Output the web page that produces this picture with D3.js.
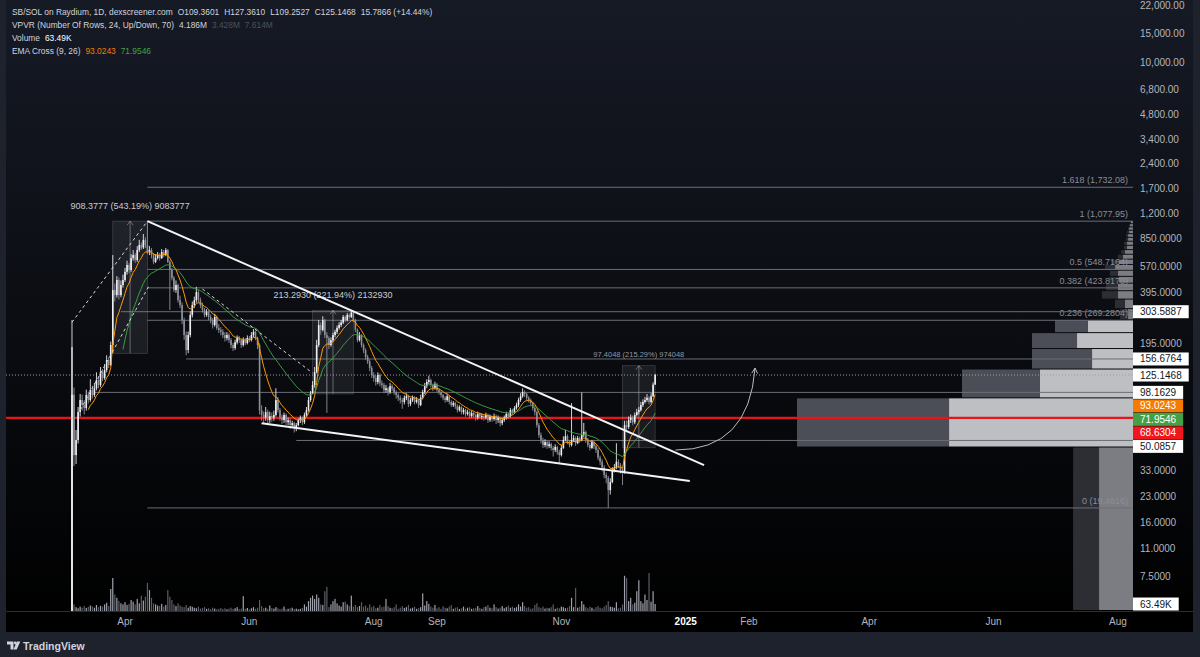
<!DOCTYPE html>
<html><head><meta charset="utf-8">
<script src="https://cdn.jsdelivr.net/npm/d3@7"></script>
<style>
html,body{margin:0;padding:0;background:#1e222d;overflow:hidden;}
svg{display:block;font-family:"Liberation Sans",Arial,sans-serif;}
</style></head><body>
<svg id="c" width="1200" height="657"></svg>
<script>
// ---------------- DATA ----------------
const startDate = "2024-03-06";
const firstOpen = 0.5;
const closes = [
95,40.8,50.4,74.5,88.2,82.2,78.8,94.6,88.2,101.4,
94.6,104,116.6,108.8,130.5,120,134.2,154.3,144,190.5,
411,383,473,383,441,473,530,584,544,643,
671,626,720,772,745,828,772,700,720,671,
610,643,671,643,700,671,720,610,544,487,
411,441,357,333,270,219,177.5,219,290,333,
357,399,357,333,311,290,302,282,270,252,
282,242,235,229,219,210,219,204,190.5,182.5,
198,210,204,190.5,204,196,210,204,219,229,
210,190.5,76.6,71.5,69,74.5,66.6,70.5,69,71.5,
88.2,76.6,69,66.6,71.5,64.7,66.6,62.1,63.8,59.6,
62.1,66.6,69,64.7,71.5,76.6,88.2,97,108.8,130.5,
190.5,252,235,270,219,210,190.5,204,219,229,
242,252,261,282,270,290,282,300,270,235,
204,219,190.5,177.5,161,151,138,125.2,120,113.5,
125.2,111.5,108.8,101.4,104,98.5,107,104,98.5,94.6,
91,88.2,85.8,91,93,83.4,88.2,91,85.8,88.2,
82.2,91,98.5,107,113.5,116.6,108.8,104,110,101.4,
98.5,94.6,91,88.2,93,85.8,82.2,84.5,81,76.6,
79.9,74.5,76.6,72.5,74.5,70.5,73.5,71.5,69,72.5,
70,70.5,69,71.5,66.6,70,67.6,70.5,66.6,69,
63.8,66.6,69,72.5,70.5,76.6,74.5,78.8,82.2,88.2,
93,98.5,96,91,88.2,84.5,78.8,74.5,62.1,54,
50.4,47,48.9,46.3,47.6,45.1,43.8,45.7,42.6,40.8,
45.1,50.4,53.2,48.9,47,50.4,51.8,48.3,51.8,50.4,
54,56.3,50.4,47,45.1,48.9,46.3,43.8,39.4,37.2,
34.3,30.9,29.6,25,28,33.1,34.3,37.2,35.5,33.1,
32.2,62.1,60.5,66.6,69,64.7,71.5,74.5,76.6,82.2,
85.8,88.2,91,85.8,93,109.3601,125.1468];
const highs = [
270,105,58,80,96,95,88,102,99,118,
108,112,130,122,140,136,146,165,160,200,
671,450,500,490,470,510,560,620,600,680,
720,690,760,830,800,900,860,1077.95,760,740,
690,680,700,690,730,720,740,730,625,560,
500,470,450,380,345,280,230,230,305,350,
375,430,410,370,345,320,315,310,292,278,
295,288,255,245,238,228,228,225,210,196,
205,218,216,208,212,210,218,216,228,238,
233,214,195,82,75,80,77,75,74,76,
104,92,79,72,74,73,69,68,66,65,
64,68,71,70,74,80,92,100,115,140,
205,270,262,285,275,228,215,212,226,236,
250,262,270,290,288,298,296,309.4,304,275,
240,228,222,195,182,166,156,142,130,124,
130,128,116,112,109,106,112,110,106,101,
97,94,91,94,97,95,91,94,93,92,
90,95,102,112,118,124,119,111,114,112,
104,100,96,93,96,94,88,87,86,83,
82,81,79,78,77,76,76,75,73,75,
74,73,72,74,73,72,71,73,72,71,
70,69,71,75,74,79,78,81,85,91,
97,104,101,98,93,90,86,80,76,64,
56,52,51,50,49.5,48.5,46.5,47.5,46.5,44,
47,53,58,54.5,50.5,84.5,54,53,53.5,53,
98.1,64,57.5,52,48.5,50.5,50,47.5,45,40.5,
38.5,35.5,32,30.5,29.5,34.5,36,48.2,38.5,36.5,
34,66,66,70,72,71,74,78,80,86,
89,92,96,93,97,113,127.361];
const lows = [
0.5,35,36,48,70,76,72,76,84,86,
90,92,101,104,106,115,117,130,138,142,
169.6,350,370,360,372,425,460,510,520,530,
620,600,610,700,720,730,740,680,670,640,
590,600,630,620,635,650,660,600,311,470,
400,395,345,320,255,205,165,170,212,280,
320,345,345,320,300,280,283,270,258,240,
246,235,225,218,210,200,203,196,182,175,
178,192,196,183,186,190,192,198,200,212,
204,180,72,66,64,66,63,64,65,66,
70,74,66,63,64,62,62,59,60,56,
57,61,64,62,63,70,75,86,96.1,105,
128,185,220,230,210,73.7,180,186,198,212,
222,236,245,255,262,265,275,278,262,228,
198,200,184,170,155,146,132,120,114,108,
110,107,104,97,98,94,96,100,95,90,
87,84,78,83,88,80,81,86,83,84,
79,81,89,96,104,110,105,100,102,98,
95,91,88,85,86,83,80,80,78,74,
75,72,72,70,71,68,69,69,66,67,
68,67,66,67,64,65,65,66,63,64,
61,62,65,67,68,69,72,73,77,80,
86,91,92,88,85,82,76,71,60,52,
48,45,45.5,44.5,45,43.5,40,42.5,41,36.6,
40,44.5,49.5,47.5,45.5,46,49,46.5,47.5,48.5,
49.5,52.5,48.5,45.5,43.5,44.5,44.5,42,38,35.5,
32.5,29.5,27.5,19.4816,23.5,27.5,32,33.5,34,31.5,
26.8,31.5,57,59,64,62,63,70,72,75,
80,84,86,83,84,92,109.2527];
const volumes = [
2400,60,35,25,40,30,45,28,38,50,
42,30,55,35,48,40,60,75,45,200,
300,150,120,90,70,60,80,55,65,100,
85,60,110,70,140,95,130,255,190,120,
70,60,50,45,65,40,55,190,130,100,
60,45,70,50,40,35,55,30,45,38,
30,25,40,22,28,35,20,25,18,30,
22,15,20,28,18,25,15,22,30,20,
25,35,18,22,135,20,28,15,25,35,
20,30,100,45,25,30,20,50,28,22,
35,25,18,22,40,15,20,25,30,18,
22,15,20,28,60,40,90,120,140,110,
150,120,60,55,180,220,35,60,90,110,
70,50,40,80,85,60,45,140,40,55,
35,45,80,40,50,30,60,35,45,25,
30,55,35,40,110,45,30,25,35,60,
20,30,45,28,35,55,22,30,40,20,
25,35,160,50,90,65,40,30,55,25,
35,20,45,30,25,40,55,20,30,35,
18,25,40,22,30,35,20,25,30,45,
28,20,35,40,55,30,25,60,35,22,
30,45,25,35,50,30,40,28,35,60,
40,80,45,30,35,20,25,55,70,35,
28,40,22,30,25,35,60,20,30,25,
40,35,25,30,45,120,35,210,30,40,
90,60,35,25,40,30,20,35,45,30,
25,40,55,90,40,35,30,80,25,30,
60,320,300,90,120,60,75,180,280,90,
70,150,100,345,85,180,63.49];

// EMA settings and last values shown in the legend
const emaLengths = [9, 26];
const emaLast = [93.0243, 71.9546];

// Volume profile (24 rows, Up/Down volumes in K), rows from price 0.5 upward
const vpLow = 0.5, vpStep = 44.89, vpValueArea = 0.70;
const vpUp =   [233,1262,638,281,384,309,34,55,103,103,96,103,123,96,69,55,41,41,34,34,27,27,21,14];
const vpDown = [178,1043,535,412,309,226,55,69,110,82,69,55,69,55,34,27,21,21,14,14,14,7,7,7];

// Fibonacci retracement
const fibStartDate = "2024-04-12";
const fibLevels = ["0","0.236","0.382","0.5","1","1.618"];
const fibPrices = [19.4816,269.2804,423.8170,548.7164,1077.95,1732.08];

// Horizontal rays
const rayPrices = [303.5887,156.6764,98.1629,50.0857];
const rayStarts = ["2024-03-30","2024-05-01","2024-03-17","2024-06-24"];
const redLinePrice = 68.6304;
const lastPrice = 125.1468;
const lastVolume = 63.49;

// Price-range measurements
const measStart = ["2024-03-26","2024-07-02","2024-12-01"];
const measEnd   = ["2024-04-12","2024-07-22","2024-12-17"];
const measLow   = [169.57,96.10,45.244];
const measHigh  = [1077.95,309.39,142.65];
const measText  = ["908.3777 (543.19%) 9083777","213.2930 (221.94%) 2132930","97.4048 (215.29%) 974048"];

// Trendlines [date, price, date, price]
const trendSolid = [["2024-04-12",1077.95,"2025-01-10",35.5],["2024-06-07",63.8,"2025-01-03",28.4]];
const trendDashed = [["2024-03-06",262,"2024-04-12",1077.95],["2024-03-10",76.6,"2024-04-13",441],["2024-05-09",417,"2024-07-02",128.7]];
// Curved projection arrow: start, control, end
const arrowCurve = [["2024-12-27",43.8],["2025-02-01",43.8],["2025-02-04",138]];

// Axes
const priceTicks = [22000,15000,10000,6800,4800,3400,2400,1700,1200,850,570,395,275,195,135,95,68,48,33,23,16,11,7.5];
const timeTickDates = ["2024-04-01","2024-06-01","2024-08-01","2024-09-01","2024-11-01","2025-01-01","2025-02-01","2025-04-01","2025-06-01","2025-08-01"];
const timeTickLabels = ["Apr","Jun","Aug","Sep","Nov","2025","Feb","Apr","Jun","Aug"];

// ---------------- LAYOUT ----------------
const PL=6, PR=1133, PT=0, PB=611, AXR=1193, TAB=632;
const parse = d3.utcParse("%Y-%m-%d");
const x = d3.scaleUtc().domain([parse("2024-04-01"), parse("2025-08-01")]).range([125,1118]);
const y = d3.scaleLog().domain([10000,16]).range([62,522]);
const vy = d3.scaleLinear().domain([0,1000]).range([PB,PB-110]);

const t0 = parse(startDate);
const bars = closes.map((c,i)=>({date:d3.utcDay.offset(t0,i), o:i?closes[i-1]:firstOpen, h:highs[i], l:lows[i], c, v:volumes[i]}));

function ema(src,n){const k=2/(n+1);let out=[],prev=null;for(let i=0;i<src.length;i++){if(i<n-1){out.push(null);}else if(i===n-1){prev=d3.mean(src.slice(0,n));out.push(prev);}else{prev=src[i]*k+prev*(1-k);out.push(prev);}}return out;}

const svg = d3.select("#c");
const defs = svg.append("defs");
const gr = defs.append("linearGradient").attr("id","bg").attr("x1",0).attr("y1",0).attr("x2",0).attr("y2",1);
gr.append("stop").attr("offset","0%").attr("stop-color","#161a25");
gr.append("stop").attr("offset","100%").attr("stop-color","#000000");
defs.append("clipPath").attr("id","pane").append("rect").attr("x",PL).attr("y",PT).attr("width",PR-PL).attr("height",PB-PT);

svg.append("rect").attr("width",1200).attr("height",657).attr("fill","#1e222d");
svg.append("rect").attr("x",PL).attr("y",0).attr("width",AXR-PL).attr("height",TAB).attr("fill","url(#bg)");

const P = svg.append("g").attr("clip-path","url(#pane)");

// volume
P.append("g").selectAll("rect").data(bars).join("rect")
 .attr("x",d=>x(d.date)-0.6).attr("width",1.2)
 .attr("y",d=>vy(d.v)).attr("height",d=>vy(0)-vy(d.v))
 .attr("fill",(d,i)=>i===0?"#e8e8ea":(d.c>=d.o?"#9fa2ab":"#5b5e68"));

// volume profile
const vpTot = vpUp.map((u,i)=>u+vpDown[i]);
const poc = d3.maxIndex(vpTot);
const inVA = vpTot.map(()=>false); inVA[poc]=true;
{let acc=vpTot[poc], lo=poc, hi=poc, target=d3.sum(vpTot)*vpValueArea;
 while(acc<target && (lo>0||hi<vpTot.length-1)){
   const a = lo>0?vpTot[lo-1]:-1, b = hi<vpTot.length-1?vpTot[hi+1]:-1;
   if(b>=a){hi++;acc+=vpTot[hi];inVA[hi]=true;} else {lo--;acc+=vpTot[lo];inVA[lo]=true;}
 }}
const vw = d3.scaleLinear().domain([0,d3.max(vpTot)]).range([0,336]);
const vpG = P.append("g");
vpUp.forEach((u,i)=>{
  const lo=vpLow+i*vpStep, hi=lo+vpStep;
  const yt=y(hi), yb=Math.min(y(lo),PB);
  const h=Math.max(0.5,yb-yt-1);
  vpG.append("rect").attr("x",PR-vw(u)).attr("width",vw(u)).attr("y",yt).attr("height",h).attr("fill",inVA[i]?"#bdbfc3":"#7c7d82");
  vpG.append("rect").attr("x",PR-vw(u)-vw(vpDown[i])).attr("width",vw(vpDown[i])).attr("y",yt).attr("height",h).attr("fill",inVA[i]?"#4b4e57":"#2d2e34");
});

// fib lines
const fibStart = x(parse(fibStartDate));
const fmtP = v=> v>=1000? d3.format(",.2f")(v) : d3.format(".4f")(v);
fibPrices.forEach((p,i)=>{
  P.append("line").attr("x1",fibStart).attr("x2",PR).attr("y1",y(p)).attr("y2",y(p)).attr("stroke","#6b6e78").attr("stroke-width",1);
  P.append("text").attr("x",PR-5).attr("y",y(p)-4).attr("text-anchor","end").attr("font-size",9).attr("fill","#8a8d96")
   .text(`${fibLevels[i]} (${fmtP(p)})`);
});
// rays
rayPrices.forEach((p,i)=>{
  P.append("line").attr("x1",x(parse(rayStarts[i]))).attr("x2",PR).attr("y1",y(p)).attr("y2",y(p)).attr("stroke","#6b6e78").attr("stroke-width",1);
});
P.append("line").attr("x1",PL).attr("x2",PR).attr("y1",y(lastPrice)).attr("y2",y(lastPrice)).attr("stroke","#9a9da6").attr("stroke-width",1).attr("stroke-dasharray","1,2");
P.append("line").attr("x1",PL).attr("x2",PR).attr("y1",y(redLinePrice)).attr("y2",y(redLinePrice)).attr("stroke","#e3161c").attr("stroke-width",2.2);

// measurement boxes
measStart.forEach((s,i)=>{
  const x0=x(parse(s)), x1=x(parse(measEnd[i])), y0=y(measHigh[i]), y1=y(measLow[i]);
  P.append("rect").attr("x",x0).attr("y",y0).attr("width",x1-x0).attr("height",y1-y0)
   .attr("fill","rgba(150,153,160,0.13)").attr("stroke","rgba(170,173,180,0.28)").attr("stroke-width",0.8);
  const cx=(x0+x1)/2;
  P.append("path").attr("d",`M${cx},${y1}V${y0}M${cx-3},${y0+4}L${cx},${y0}L${cx+3},${y0+4}`).attr("fill","none").attr("stroke","rgba(200,202,208,0.55)").attr("stroke-width",0.8);
  P.append("text").attr("x",cx).attr("y",y0-(i===2?9:12)).attr("text-anchor","middle")
   .attr("font-size",i===2?7.5:9).attr("fill",i===2?"#9598a1":"#c9cbd1").text(measText[i]);
});

// candles
const cg = P.append("g");
cg.selectAll("line").data(bars).join("line")
 .attr("x1",d=>x(d.date)).attr("x2",d=>x(d.date)).attr("y1",d=>y(d.h)).attr("y2",d=>y(d.l))
 .attr("stroke",d=>d.c>=d.o?"#e6e7ea":"#8e919a").attr("stroke-width",0.9);
cg.selectAll("rect").data(bars).join("rect")
 .attr("x",d=>x(d.date)-0.8).attr("width",1.6)
 .attr("y",d=>y(Math.max(d.o,d.c))).attr("height",d=>Math.max(1,Math.abs(y(d.o)-y(d.c))))
 .attr("fill",d=>d.c>=d.o?"#eeeff1":"#8e919a");

// EMAs
const emaColors=["#ff9800","#3f9a44"];
emaLengths.forEach((n,k)=>{
  const e = ema(closes,n);
  const pts = bars.map((b,i)=>({date:b.date,v:e[i]}));
  P.append("path").datum(pts).attr("fill","none").attr("stroke",emaColors[k]).attr("stroke-width",1)
   .attr("d",d3.line().defined(d=>d.v!=null).x(d=>x(d.date)).y(d=>y(d.v)));
});

// trendlines
trendSolid.forEach(t=>{
  P.append("line").attr("x1",x(parse(t[0]))).attr("y1",y(t[1])).attr("x2",x(parse(t[2]))).attr("y2",y(t[3]))
   .attr("stroke","#f4f4f6").attr("stroke-width",2);
});
trendDashed.forEach(t=>{
  P.append("line").attr("x1",x(parse(t[0]))).attr("y1",y(t[1])).attr("x2",x(parse(t[2]))).attr("y2",y(t[3]))
   .attr("stroke","#d6d7db").attr("stroke-width",1).attr("stroke-dasharray","3,3");
});
{
  const [a,c,b] = arrowCurve.map(p=>[x(parse(p[0])),y(p[1])]);
  const pth = d3.path(); pth.moveTo(a[0],a[1]); pth.quadraticCurveTo(c[0],c[1],b[0],b[1]);
  P.append("path").attr("d",pth.toString()).attr("fill","none").attr("stroke","#b9bbc1").attr("stroke-width",1);
  const dx=b[0]-c[0], dy=b[1]-c[1], L=Math.hypot(dx,dy), ux=dx/L, uy=dy/L;
  const s=6, ang=0.5;
  const p1=[b[0]-s*(ux*Math.cos(ang)-uy*Math.sin(ang)), b[1]-s*(uy*Math.cos(ang)+ux*Math.sin(ang))];
  const p2=[b[0]-s*(ux*Math.cos(-ang)-uy*Math.sin(-ang)), b[1]-s*(uy*Math.cos(-ang)+ux*Math.sin(-ang))];
  P.append("path").attr("d",`M${p1}L${b}L${p2}`).attr("fill","none").attr("stroke","#b9bbc1").attr("stroke-width",1);
}

// price labels (computed first so colliding tick labels can be hidden)
const lbls = [
  {v:303.5887,bg:"#ffffff",fg:"#131722"},
  {v:156.6764,bg:"#ffffff",fg:"#131722"},
  {v:lastPrice,bg:"#ffffff",fg:"#131722"},
  {v:98.1629,bg:"#ffffff",fg:"#131722"},
  {v:emaLast[0],bg:"#f57c00",fg:"#ffffff"},
  {v:emaLast[1],bg:"#43a047",fg:"#ffffff"},
  {v:redLinePrice,bg:"#f0161b",fg:"#ffffff"},
  {v:50.0857,bg:"#ffffff",fg:"#131722"}
].map(d=>({...d,yy:y(d.v),txt:fmtP(d.v)}));
lbls.sort((a,b)=>a.yy-b.yy);
for(let i=1;i<lbls.length;i++){ if(lbls[i].yy-lbls[i-1].yy<13.5) lbls[i].yy=lbls[i-1].yy+13.5; }
lbls.push({yy:vy(lastVolume),bg:"#ffffff",fg:"#131722",txt:d3.format(".2f")(lastVolume)+"K"});

// price axis ticks
const ax = svg.append("g");
priceTicks.filter(v=>lbls.every(l=>Math.abs(l.yy-y(v))>=12.5)).forEach(v=>{
  ax.append("text").attr("x",1140).attr("y",y(v)).attr("dy","0.35em").attr("font-size",10).attr("fill","#b2b5be").text(fmtP(v));
});
lbls.forEach(d=>{
  const r = ax.append("rect").attr("x",PR).attr("y",d.yy-6.5).attr("height",13).attr("fill",d.bg);
  const t = ax.append("text").attr("x",1140).attr("y",d.yy).attr("dy","0.35em").attr("font-size",10).attr("fill",d.fg).text(d.txt);
  r.attr("width",t.node().getComputedTextLength()+14);
});

// time axis
svg.append("line").attr("x1",PL).attr("x2",AXR).attr("y1",PB+0.5).attr("y2",PB+0.5).attr("stroke","#2a2d36");
timeTickDates.forEach((d,i)=>{
  const b = timeTickLabels[i]==="2025";
  svg.append("text").attr("x",x(parse(d))).attr("y",625).attr("text-anchor","middle").attr("font-size",10)
   .attr("font-weight",b?"bold":"normal").attr("fill",b?"#ffffff":"#b2b5be").text(timeTickLabels[i]);
});

// header legend
const hdr = [
  [["SB/SOL on Raydium, 1D, dexscreener.com","#d1d4dc"],["O109.3601","#d1d4dc"],["H127.3610","#d1d4dc"],["L109.2527","#d1d4dc"],["C125.1468","#d1d4dc"],["15.7866 (+14.44%)","#d1d4dc"]],
  [["VPVR (Number Of Rows, 24, Up/Down, 70)","#d1d4dc"],["4.186M","#d1d4dc"],["3.428M","#4e515b"],["7.614M","#4e515b"]],
  [["Volume","#d1d4dc"],["63.49K","#ffffff"]],
  [["EMA Cross (9, 26)","#d1d4dc"],["93.0243","#f57c00"],["71.9546","#43a047"]]
];
hdr.forEach((line,k)=>{
  const t = svg.append("text").attr("x",12).attr("y",15+k*13).attr("font-size",8.4);
  line.forEach((s,j)=>{ t.append("tspan").attr("dx",j?5:0).attr("fill",s[1]).text(s[0]); });
});

// TradingView logo
const lg = svg.append("g").attr("fill","#d1d4dc");
lg.append("path").attr("d","M7,641.5h6.5v8h-3v-5h-3.5z");
lg.append("circle").attr("cx",15.3).attr("cy",643).attr("r",1.4);
lg.append("path").attr("d","M17,641.5h3.3l-3.6,8h-3.2z");
svg.append("text").attr("x",23).attr("y",649.5).attr("font-size",10.5).attr("font-weight",600).attr("fill","#d1d4dc").text("TradingView");
</script>
</body></html>
